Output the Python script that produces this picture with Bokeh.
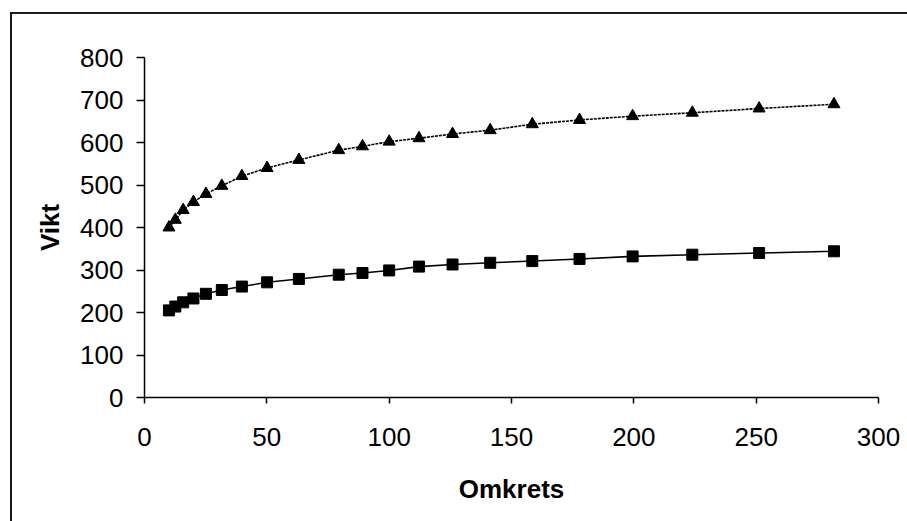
from bokeh.plotting import figure
from bokeh.models import FixedTicker, Range1d, InlineStyleSheet
from bokeh.embed import file_html
from bokeh.resources import INLINE

# Data
omkrets = [10, 12.6, 15.8, 20, 25.1, 31.6, 39.8, 50.1, 63.1, 79.4, 89.1, 100,
           112.2, 125.9, 141.3, 158.5, 177.8, 199.5, 223.9, 251.2, 281.8]
vikt_triangel = [400, 418, 441, 460, 479, 498, 521, 540, 559, 582, 591, 602,
                 610, 620, 629, 643, 653, 662, 670, 680, 690]
vikt_kvadrat = [205, 214, 224, 233, 244, 253, 261, 271, 279, 289, 293, 299,
                308, 313, 317, 321, 326, 332, 336, 340, 344]
x_ticks = [0, 50, 100, 150, 200, 250, 300]
y_ticks = [0, 100, 200, 300, 400, 500, 600, 700, 800]

FONT = "Liberation Sans"

p = figure(width=920, height=535, output_backend="svg", toolbar_location=None,
           x_range=Range1d(0, 300), y_range=Range1d(0, 800),
           min_border_left=144, min_border_right=42,
           min_border_top=57, min_border_bottom=138)
p.outline_line_color = None
# transparent canvas so that the chart-area border drawn by CSS shows through
p.background_fill_color = None
p.border_fill_color = None
p.stylesheets = [InlineStyleSheet(css=(
    ":host { background: "
    "linear-gradient(#1a1a1a, #1a1a1a) 10px 12px / 2px 2000px no-repeat, "
    "linear-gradient(#1a1a1a, #1a1a1a) 10px 12px / 2000px 2px no-repeat, "
    "white; }"
))]
p.grid.visible = False

p.xaxis.ticker = FixedTicker(ticks=x_ticks)
p.yaxis.ticker = FixedTicker(ticks=y_ticks)
p.xaxis.minor_tick_line_color = None
p.yaxis.minor_tick_line_color = None
for ax in (p.xaxis, p.yaxis):
    ax.axis_line_color = "black"
    ax.axis_line_width = 1.5
    ax.major_tick_line_color = "black"
    ax.major_tick_line_width = 1.5
    ax.major_tick_in = 0
    ax.major_label_text_font = FONT
    ax.major_label_text_font_size = "26px"
    ax.major_label_text_color = "black"
    ax.axis_label_text_font = FONT
    ax.axis_label_text_font_size = "26px"
    ax.axis_label_text_font_style = "bold"
    ax.axis_label_text_color = "black"
p.xaxis.major_tick_out = 6
p.yaxis.major_tick_out = 8
p.xaxis.major_label_standoff = 24
p.yaxis.major_label_standoff = 13
p.xaxis.axis_label = "Omkrets"
p.yaxis.axis_label = "Vikt"
p.xaxis.axis_label_standoff = 25
p.yaxis.axis_label_standoff = 12

p.line(omkrets, vikt_triangel, line_color="black", line_width=1.6, line_dash="3 1")
p.scatter(omkrets, vikt_triangel, marker="triangle", size=12,
          fill_color="black", line_color="black")
p.line(omkrets, vikt_kvadrat, line_color="black", line_width=1.6)
p.scatter(omkrets, vikt_kvadrat, marker="square", size=11,
          fill_color="black", line_color="black")

open("out.html", "w").write(file_html(p, INLINE))
